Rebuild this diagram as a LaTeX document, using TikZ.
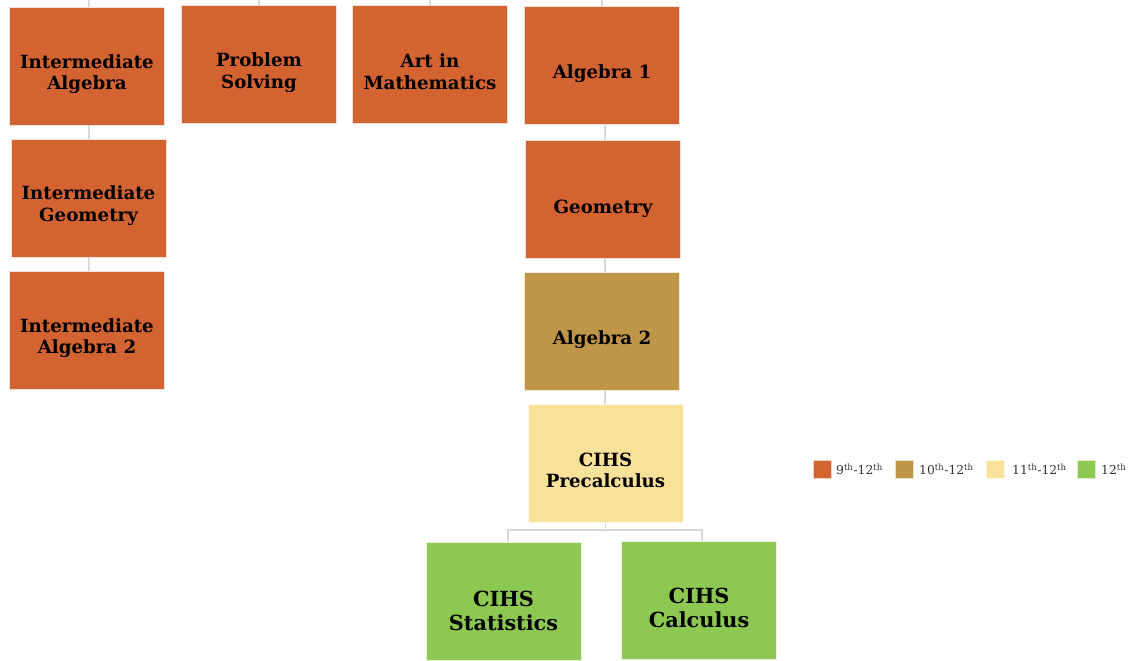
\documentclass[tikz,border=0pt]{standalone}
\usepackage{fontspec}
\setmainfont{DejaVu Serif}
\newfontfamily\legfont{DejaVu Serif}
\definecolor{c9}{HTML}{D46332}
\definecolor{c10}{HTML}{BF9647}
\definecolor{c11}{HTML}{F8E29A}
\definecolor{c12}{HTML}{8DC852}
\definecolor{conn}{HTML}{D9D9D9}
\definecolor{legtxt}{HTML}{333333}
\tikzset{
  box/.style={rectangle, draw=white!80!#1, line width=0.8pt, fill=#1, inner sep=0pt, minimum width=155pt, minimum height=118pt},
  txt/.style={align=center, font=\fontsize{18.2}{21.5}\selectfont\bfseries, text=black, inner sep=0pt},
  bigtxt/.style={align=center, font=\fontsize{20.8}{24}\selectfont\bfseries, text=black, inner sep=0pt},
  link/.style={draw=conn, line width=1.3pt},
  legbox/.style={rectangle, fill=#1, draw=white!70!#1, line width=0.5pt, minimum size=18pt, inner sep=0pt},
  legtext/.style={anchor=west, font=\legfont\fontsize{12.3}{14}\selectfont, text=legtxt, inner sep=0pt}
}
\begin{document}
\begin{tikzpicture}[x=1pt,y=-1pt]
\useasboundingbox (0,0) rectangle (1144,661);
% boxes
\node[box=c9] (ia) at (87,66) {};
\node[box=c9] (ps) at (259,64.5) {};
\node[box=c9] (am) at (430,64.5) {};
\node[box=c9] (a1) at (602,65.5) {};
\node[box=c9] (ig) at (88.5,198) {};
\node[box=c9] (ia2) at (87,330.5) {};
\node[box=c9] (geo) at (603,199) {};
\node[box=c10] (a2) at (602,331.5) {};
\node[box=c11] (pc) at (605.5,463.5) {};
\node[box=c12] (st) at (503.5,601.5) {};
\node[box=c12] (ca) at (699,600.5) {};
% texts
\node[txt] (ia-t) at ([yshift=-8]ia.center) {Intermediate\\Algebra};
\node[txt] (ps-t) at ([yshift=-8]ps.center) {Problem\\Solving};
\node[txt] (am-t) at ([yshift=-7]am.center) {Art in\\Mathematics};
\node[txt] (a1-t) at ([yshift=-8.5]a1.center) {Algebra 1};
\node[txt] (ig-t) at ([yshift=-7.5]ig.center) {Intermediate\\Geometry};
\node[txt] (ia2-t) at ([yshift=-7.5]ia2.center) {Intermediate\\Algebra 2};
\node[txt] (geo-t) at ([yshift=-10]geo.center) {Geometry};
\node[txt] (a2-t) at ([yshift=-8]a2.center) {Algebra 2};
\node[txt] (pc-t) at ([yshift=-7]pc.center) {CIHS\\Precalculus};
\node[bigtxt] (st-t) at ([yshift=-9]st.center) {CIHS\\Statistics};
\node[bigtxt] (ca-t) at ([yshift=-7]ca.center) {CIHS\\Calculus};
% top connectors
\coordinate (t1) at (89,0);
\coordinate (t2) at (259,0);
\coordinate (t3) at (430,0);
\coordinate (t4) at (602,0);
\draw[link] (t1) -- (t1 |- ia.north);
\draw[link] (t2) -- (t2 |- ps.north);
\draw[link] (t3) -- (t3 |- am.north);
\draw[link] (t4) -- (t4 |- a1.north);
\coordinate (l1) at (89,0);
\draw[link] (l1 |- ia.south) -- (l1 |- ig.north);
\draw[link] (l1 |- ig.south) -- (l1 |- ia2.north);
\coordinate (l2) at (605,0);
\draw[link] (l2 |- a1.south) -- (l2 |- geo.north);
\draw[link] (l2 |- geo.south) -- (l2 |- a2.north);
\draw[link] (l2 |- a2.south) -- (l2 |- pc.north);
\coordinate (hb) at (605.5,530);
\coordinate (hl) at (508,530);
\coordinate (hr) at (702,530);
\draw[link] (pc.south) -- (hb);
\draw[link] (hl |- st.north) -- (hl) -- (hr) -- (hr |- ca.north);
% legend
\node[legbox=c9] (g1) at (822,469) {};
\node[legtext] (g1-t) at (836,469) {9\textsuperscript{th}-12\textsuperscript{th}};
\node[legbox=c10] (g2) at (904.5,469) {};
\node[legtext] (g2-t) at (919,469) {10\textsuperscript{th}-12\textsuperscript{th}};
\node[legbox=c11] (g3) at (995,469) {};
\node[legtext] (g3-t) at (1012,469) {11\textsuperscript{th}-12\textsuperscript{th}};
\node[legbox=c12] (g4) at (1086.5,469) {};
\node[legtext] (g4-t) at (1101,469) {12\textsuperscript{th}};
\end{tikzpicture}
\end{document}
